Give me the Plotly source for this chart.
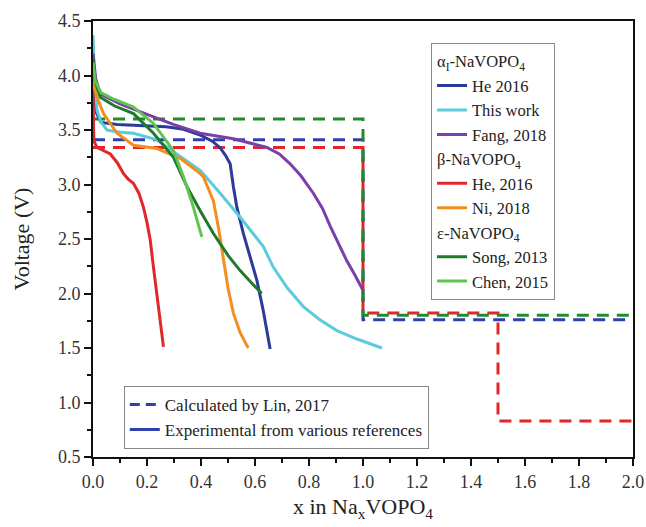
import plotly.graph_objects as go

# ---------------- data ----------------
he2016a_x = [0.0, 0.005, 0.012, 0.03, 0.09, 0.2, 0.27, 0.33, 0.4, 0.44, 0.47, 0.49, 0.508, 0.52, 0.533, 0.557, 0.58, 0.607, 0.63, 0.656]
he2016a_y = [4.2, 3.85, 3.66, 3.57, 3.55, 3.54, 3.53, 3.51, 3.45, 3.4, 3.34, 3.27, 3.19, 2.98, 2.79, 2.55, 2.35, 2.12, 1.85, 1.49]

thiswork_x = [0.0, 0.005, 0.015, 0.03, 0.052, 0.1, 0.15, 0.237, 0.31, 0.397, 0.471, 0.545, 0.631, 0.668, 0.72, 0.779, 0.84, 0.903, 0.98, 1.07]
thiswork_y = [4.37, 4.0, 3.68, 3.57, 3.5, 3.48, 3.47, 3.41, 3.28, 3.13, 2.92, 2.7, 2.43, 2.24, 2.05, 1.88, 1.76, 1.66, 1.58, 1.5]

fang_x = [0.0, 0.01, 0.027, 0.1, 0.224, 0.3, 0.397, 0.52, 0.644, 0.69, 0.73, 0.77, 0.816, 0.85, 0.878, 0.91, 0.94, 0.97, 1.0]
fang_y = [4.2, 3.97, 3.83, 3.74, 3.62, 3.55, 3.47, 3.42, 3.34, 3.28, 3.19, 3.08, 2.92, 2.78, 2.62, 2.45, 2.3, 2.17, 2.03]

he2016b_x = [0.0, 0.003, 0.015, 0.04, 0.064, 0.09, 0.113, 0.13, 0.15, 0.17, 0.187, 0.2, 0.212, 0.224, 0.24, 0.261]
he2016b_y = [3.85, 3.4, 3.34, 3.31, 3.28, 3.2, 3.1, 3.05, 3.01, 2.92, 2.79, 2.65, 2.49, 2.24, 1.9, 1.51]

ni_x = [0.0, 0.005, 0.015, 0.039, 0.089, 0.15, 0.237, 0.323, 0.397, 0.409, 0.434, 0.446, 0.465, 0.483, 0.5, 0.52, 0.545, 0.575]
ni_y = [3.95, 3.88, 3.8, 3.65, 3.47, 3.36, 3.33, 3.24, 3.1, 3.07, 2.92, 2.85, 2.6, 2.33, 2.05, 1.82, 1.64, 1.5]

song_x = [0.0, 0.008, 0.027, 0.08, 0.15, 0.224, 0.298, 0.348, 0.397, 0.446, 0.5, 0.545, 0.59, 0.625]
song_y = [4.15, 3.95, 3.8, 3.72, 3.65, 3.47, 3.25, 2.98, 2.76, 2.55, 2.35, 2.21, 2.09, 2.0]

chen_x = [0.0, 0.008, 0.03, 0.08, 0.15, 0.224, 0.298, 0.335, 0.372, 0.403]
chen_y = [4.12, 3.95, 3.84, 3.78, 3.71, 3.56, 3.31, 3.07, 2.79, 2.52]

calc_green_x = [0.0, 1.0, 1.0, 2.0]
calc_green_y = [3.6, 3.6, 1.8, 1.8]
calc_blue_x = [0.0, 1.0, 1.0, 2.0]
calc_blue_y = [3.41, 3.41, 1.76, 1.76]
calc_red_x = [0.0, 1.0, 1.0, 1.5, 1.5, 2.0]
calc_red_y = [3.34, 3.34, 1.82, 1.82, 0.83, 0.83]

x_ticks = [0.0, 0.2, 0.4, 0.6, 0.8, 1.0, 1.2, 1.4, 1.6, 1.8, 2.0]
y_ticks = [0.5, 1.0, 1.5, 2.0, 2.5, 3.0, 3.5, 4.0, 4.5]

# ---------------- styles ----------------
C_BLUE = "#2c3a9c"
C_CYAN = "#5ccbdd"
C_PURPLE = "#7b3fa9"
C_RED = "#e2272b"
C_ORANGE = "#f38f1f"
C_DGREEN = "#1f7a2c"
C_LGREEN = "#62c450"
FONT = "Liberation Serif, Times New Roman, serif"
DASH = "12px,8px"

fig = go.Figure()

for xs, ys, col in [(calc_red_x, calc_red_y, C_RED),
                    (calc_blue_x, calc_blue_y, "#2f40b0"),
                    (calc_green_x, calc_green_y, "#238a2c")]:
    fig.add_trace(go.Scatter(x=xs, y=ys, mode="lines", showlegend=False,
                             line=dict(color=col, width=3, dash=DASH)))

series = [
    ("He 2016", he2016a_x, he2016a_y, C_BLUE, "a", "α<sub>I</sub>-NaVOPO<sub>4</sub>"),
    ("This work", thiswork_x, thiswork_y, C_CYAN, "a", None),
    ("Fang, 2018", fang_x, fang_y, C_PURPLE, "a", None),
    ("He, 2016", he2016b_x, he2016b_y, C_RED, "b", "β-NaVOPO<sub>4</sub>"),
    ("Ni, 2018", ni_x, ni_y, C_ORANGE, "b", None),
    ("Song, 2013", song_x, song_y, C_DGREEN, "e", "ε-NaVOPO<sub>4</sub>"),
    ("Chen, 2015", chen_x, chen_y, C_LGREEN, "e", None),
]
for name, xs, ys, col, grp, title in series:
    kw = {}
    if title:
        kw["legendgrouptitle"] = dict(text=title, font=dict(family=FONT, size=16.5, color="#222"))
    fig.add_trace(go.Scatter(x=xs, y=ys, mode="lines", name=name,
                             legendgroup=grp, legend="legend",
                             line=dict(color=col, width=3), **kw))

fig.add_trace(go.Scatter(x=[None], y=[None], mode="lines", name="Calculated by Lin, 2017",
                         legend="legend2", line=dict(color="#2f40b0", width=3, dash="10px,6px")))
fig.add_trace(go.Scatter(x=[None], y=[None], mode="lines", name="Experimental from various references",
                         legend="legend2", line=dict(color="#2f40b0", width=3)))

axis_common = dict(
    showgrid=False, zeroline=False, showline=True, linecolor="#111", linewidth=2,
    mirror=True, ticks="outside", ticklen=7, tickwidth=2, tickcolor="#111",
    tickfont=dict(family=FONT, size=18, color="#333"), automargin=False,
)

fig.update_xaxes(range=[0, 2.0], tickvals=x_ticks, ticktext=[f"{v:.1f}" for v in x_ticks],
                 minor=dict(ticks="outside", ticklen=4, tickwidth=2, tickcolor="#111", dtick=0.1, tick0=0),
                 title=dict(text="x in Na<sub>x</sub>VOPO<sub>4</sub>", font=dict(family=FONT, size=22, color="#222"), standoff=8),
                 **axis_common)
fig.update_yaxes(range=[0.5, 4.5], tickvals=y_ticks, ticktext=[f"{v:.1f}" for v in y_ticks],
                 minor=dict(ticks="outside", ticklen=4, tickwidth=2, tickcolor="#111", dtick=0.25, tick0=0.5),
                 title=dict(text="Voltage (V)", font=dict(family=FONT, size=22, color="#222"), standoff=22),
                 **axis_common)

fig.update_layout(
    width=646, height=527,
    margin=dict(l=93, r=13, t=21, b=70, autoexpand=False),
    plot_bgcolor="white", paper_bgcolor="white",
    legend=dict(x=0.626, y=0.95, xanchor="left", yanchor="top",
                bgcolor="white", bordercolor="#888", borderwidth=1,
                font=dict(family=FONT, size=16.5, color="#222"),
                tracegroupgap=0, itemwidth=30),
    legend2=dict(x=0.057, y=0.163, xanchor="left", yanchor="top",
                 bgcolor="white", bordercolor="#888", borderwidth=1,
                 font=dict(family=FONT, size=17, color="#222"),
                 tracegroupgap=0, itemwidth=30),
)

fig.write_html("out.html")
